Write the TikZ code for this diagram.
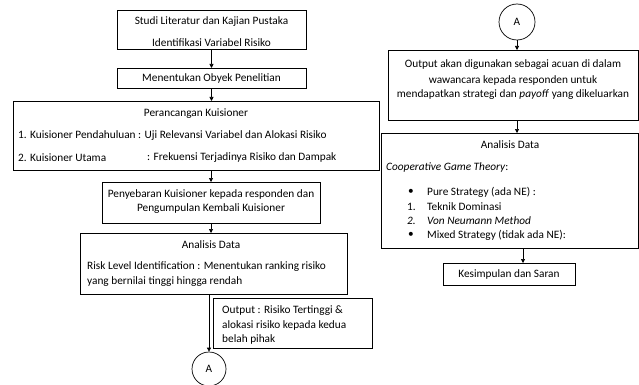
\documentclass[tikz,border=0pt]{standalone}
\usepackage{fontspec}
\setmainfont{Carlito}
\usetikzlibrary{arrows.meta}
\begin{document}
\begin{tikzpicture}[x=1pt,y=-1pt,
  box/.style={draw, line width=0.7pt, rectangle, inner sep=0pt, anchor=north west},
  circ/.style={draw, line width=0.7pt, circle, minimum size=36pt, inner sep=0pt, font=\fontsize{11.3}{13}\selectfont},
  txt/.style={inner sep=0pt, font=\fontsize{11.3}{13}\selectfont},
  arr/.style={line width=0.7pt, -{Triangle[length=4pt,width=4pt]}}
]
\useasboundingbox (0,0) rectangle (639,385);
% ---------------- left column ----------------
\node[box, minimum width=189pt, minimum height=39pt] (b1) at (117,10) {};
\node[txt] (t1a) at (211.5,22) {Studi Literatur dan Kajian Pustaka};
\node[txt] (t1b) at (211.5,43) {Identifikasi Variabel Risiko};

\node[box, minimum width=189pt, minimum height=20pt] (b2) at (117,68) {};
\node[txt] (t2) at (211.5,78) {Menentukan Obyek Penelitian};

\node[box, minimum width=366pt, minimum height=69pt] (b3) at (13,101) {};
\node[txt] (t3a) at (196,114) {Perancangan Kuisioner};
\node[txt, anchor=west] (t3b) at (18,136) {1. Kuisioner Pendahuluan : Uji Relevansi Variabel dan Alokasi Risiko};
\node[txt, anchor=west] (t3c) at (18,158) {2. Kuisioner Utama};
\node[txt, anchor=west] (t3d) at (147,158) {: Frekuensi Terjadinya Risiko dan Dampak};

\node[box, minimum width=218pt, minimum height=41pt] (b4) at (102,182) {};
\node[txt] (t4a) at (211,194) {Penyebaran Kuisioner kepada responden dan};
\node[txt] (t4b) at (211,209) {Pengumpulan Kembali Kuisioner};

\node[box, minimum width=267pt, minimum height=61pt] (b5) at (80,233) {};
\node[txt] (t5a) at (211,245) {Analisis Data};
\node[txt, anchor=west] (t5b) at (87,267) {Risk Level Identification : Menentukan ranking risiko};
\node[txt, anchor=west] (t5c) at (87,282) {yang bernilai tinggi hingga rendah};

\node[box, minimum width=159pt, minimum height=50pt] (b7) at (213,298) {};
\node[txt, anchor=west] (t7a) at (222,311) {Output : Risiko Tertinggi \&};
\node[txt, anchor=west] (t7b) at (222,325) {alokasi risiko kepada kedua};
\node[txt, anchor=west] (t7c) at (222,339) {belah pihak};

\node[circ, minimum size=34pt] (A1) at (209,369) {A};

\draw[arr] (b1.south -| t1a) -- (b2.north -| t1a);
\draw[arr] (b2.south -| t1a) -- (b3.north -| t1a);
\draw[arr] (b3.south -| t4a) -- (b4.north -| t4a);
\draw[arr] (b4.south -| t4a) -- (b5.north -| t4a);
\draw[arr] (b5.south -| A1) -- (A1.north);

% ---------------- right column ----------------
\node[circ] (A2) at (517,22) {A};

\node[box, minimum width=250pt, minimum height=70pt] (b6) at (388,50) {};
\node[txt] (t6a) at (513,65) {Output akan digunakan sebagai acuan di dalam};
\node[txt] (t6b) at (513,80) {wawancara kepada responden untuk};
\node[txt] (t6c) at (513,95) {mendapatkan strategi dan \textit{payoff} yang dikeluarkan};

\node[box, minimum width=257pt, minimum height=115pt] (b8) at (381,133) {};
\node[txt] (t8a) at (510,145) {Analisis Data};
\node[txt, anchor=west] (t8b) at (386,167) {\textit{Cooperative Game Theory}:};
\node[txt] (t8c1) at (411,192) {\textbullet};
\node[txt, anchor=west] (t8c) at (427,192) {Pure Strategy (ada NE) :};
\node[txt, anchor=west] (t8d1) at (407,207) {1.};
\node[txt, anchor=west] (t8d) at (427,207) {Teknik Dominasi};
\node[txt, anchor=west] (t8e1) at (407,221) {\textit{2.}};
\node[txt, anchor=west] (t8e) at (427,221) {\textit{Von Neumann Method}};
\node[txt] (t8f1) at (411,235) {\textbullet};
\node[txt, anchor=west] (t8f) at (427,235) {Mixed Strategy (tidak ada NE):};

\node[box, minimum width=132pt, minimum height=22pt] (b9) at (443,263) {};
\node[txt] (t9) at (509,274) {Kesimpulan dan Saran};

\coordinate (c1) at (517,0);
\coordinate (c2) at (523,0);
\draw[arr] (A2.south) -- (A2.south |- b6.north);
\draw[arr] (b6.south -| c1) -- (b8.north -| c1);
\draw[arr] (b8.south -| c2) -- (b9.north -| c2);
\end{tikzpicture}
\end{document}
